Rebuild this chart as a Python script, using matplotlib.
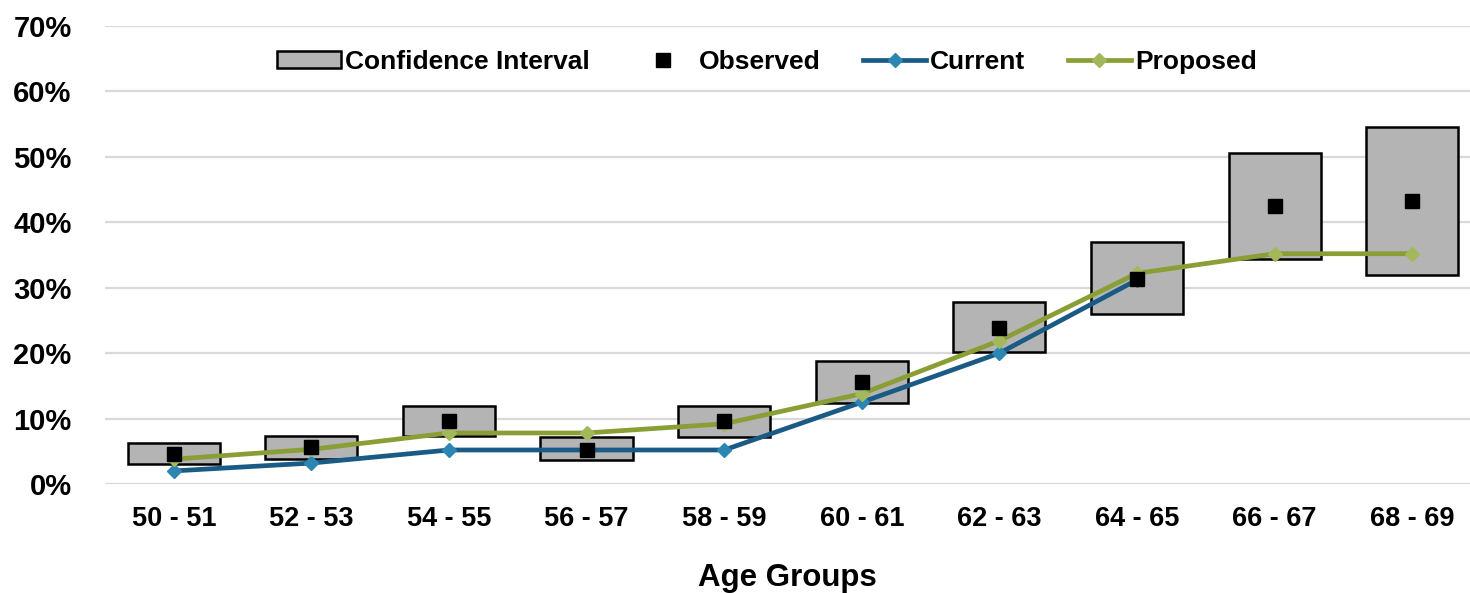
import matplotlib.pyplot as plt
import numpy as np
from matplotlib.patches import Patch
from matplotlib.lines import Line2D

plt.rcParams.update({'font.family': 'Liberation Sans', 'font.weight': 'bold'})

age_groups = ['50 - 51', '52 - 53', '54 - 55', '56 - 57', '58 - 59',
              '60 - 61', '62 - 63', '64 - 65', '66 - 67', '68 - 69']
ci_low  = [3.1, 3.8, 7.3, 3.7, 7.2, 12.4, 20.2, 26.0, 34.4, 31.9]
ci_high = [6.3, 7.3, 11.9, 7.2, 11.9, 18.8, 27.8, 37.0, 50.6, 54.6]
observed = [4.6, 5.7, 9.6, 5.2, 9.6, 15.6, 23.8, 31.3, 42.5, 43.3]
current = [2.0, 3.2, 5.2, 5.2, 5.2, 12.5, 20.0, 31.2]
proposed = [3.8, 5.3, 7.8, 7.8, 9.2, 13.8, 21.9, 32.2, 35.2, 35.2]

x = np.arange(len(age_groups))
low = np.array(ci_low) / 100
high = np.array(ci_high) / 100

blue, blue_mk = '#1a5b85', '#2b86b3'
green, green_mk = '#8a9e36', '#a3b85a'

fig = plt.figure(figsize=(14.7, 5.93), dpi=100)
ax = fig.add_axes([0.0714, 0.1838, 0.9286, 0.7723])

ax.bar(x, high - low, 0.67, bottom=low, color='#b4b4b4', edgecolor='black',
       linewidth=1.8, zorder=2)
ax.plot(x[:len(current)], np.array(current) / 100, color=blue, linewidth=3.4,
        marker='D', markersize=7, markerfacecolor=blue_mk, markeredgecolor=blue_mk, zorder=3)
ax.plot(x, np.array(proposed) / 100, color=green, linewidth=3.4,
        marker='D', markersize=7, markerfacecolor=green_mk, markeredgecolor=green_mk, zorder=4)
ax.plot(x, np.array(observed) / 100, linestyle='none', marker='s', markersize=9.5,
        color='black', zorder=5)

ax.set_xlim(-0.5, 9.42)
ax.set_ylim(0, 0.7)
ax.set_yticks(np.arange(0, 0.71, 0.1))
ax.set_yticklabels([f'{int(round(v * 100))}%' for v in np.arange(0, 0.71, 0.1)])
ax.set_xticks(x)
ax.set_xticklabels(age_groups)
ax.tick_params(axis='x', length=0, labelsize=19.5, pad=16)
ax.tick_params(axis='y', length=0, labelsize=21, pad=24)
ax.yaxis.grid(True, color='#d9d9d9', linewidth=1.6, zorder=0)
ax.set_axisbelow(True)
for s in ax.spines.values():
    s.set_visible(False)
ax.set_xlabel('Age Groups', fontsize=22.5, fontweight='bold', labelpad=22)

handles = [
    Patch(facecolor='#b4b4b4', edgecolor='black', linewidth=1.8),
    Line2D([], [], linestyle='none', marker='s', markersize=9.5, color='black'),
    Line2D([], [], color=blue, linewidth=3.4, marker='D', markersize=7,
           markerfacecolor=blue_mk, markeredgecolor=blue_mk),
    Line2D([], [], color=green, linewidth=3.4, marker='D', markersize=7,
           markerfacecolor=green_mk, markeredgecolor=green_mk),
]
ax.legend(handles, ['Confidence Interval', 'Observed', 'Current', 'Proposed'],
          ncol=4, loc='center', bbox_to_anchor=(0.485, 0.922), frameon=False,
          fontsize=19, handlelength=2.4, handleheight=0.6, handletextpad=0.15,
          columnspacing=1.6)

fig.savefig('out.png', dpi=100)
